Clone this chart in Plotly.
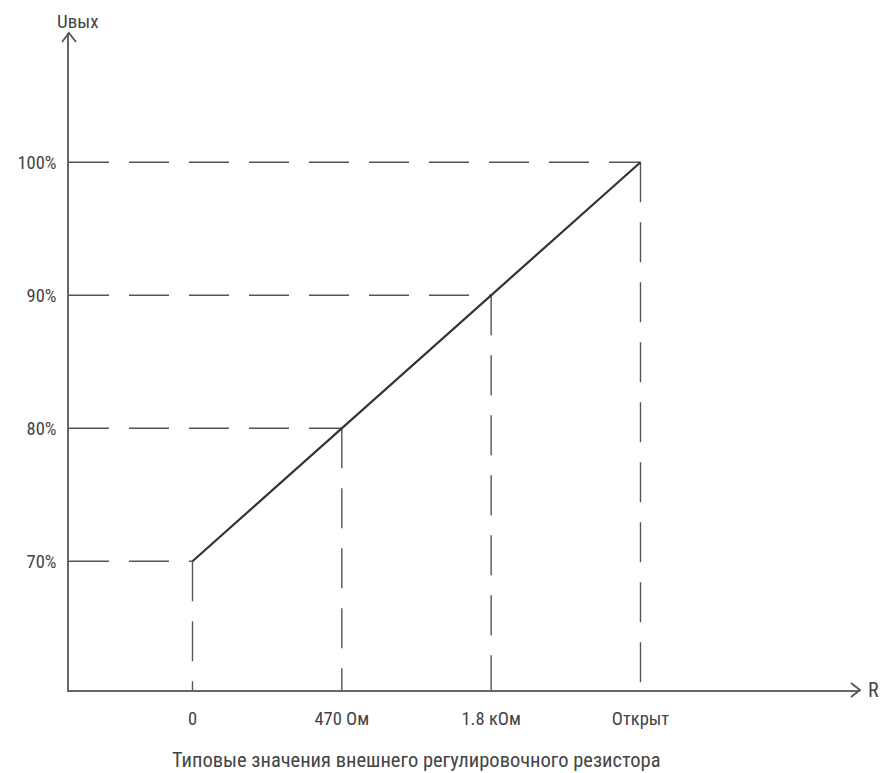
import plotly.graph_objects as go

categories = ["0", "470 Ом", "1.8 кОм", "Открыт"]
values = [70, 80, 90, 100]
y_ticks = [70, 80, 90, 100]
y_tick_labels = ["70%", "80%", "90%", "100%"]
x_title = "Типовые значения внешнего регулировочного резистора"
y_label = "Uвых"
x_label = "R"

FONT = "Liberation Sans Narrow, Roboto Condensed, Roboto, sans-serif"
xpos = list(range(len(categories)))
XMIN, XMAX = -0.827, 4.47
YMIN, YMAX = 60.32, 109.72

# the page body adds an 8px offset; compensate in size and margins
OFF = 8

fig = go.Figure()

# dashed guides
hx, hy, vx, vy = [], [], [], []
for i, v in zip(xpos, values):
    hx += [XMIN, i, None]
    hy += [v, v, None]
    vx += [i, i, None]
    vy += [v, YMIN, None]
fig.add_trace(go.Scatter(x=hx, y=hy, mode="lines", hoverinfo="skip",
                         line=dict(color="#555555", width=1.4, dash="40px,20px")))
fig.add_trace(go.Scatter(x=vx, y=vy, mode="lines", hoverinfo="skip",
                         line=dict(color="#555555", width=1.4, dash="40px,20px")))
# main line
fig.add_trace(go.Scatter(x=xpos, y=values, mode="lines",
                         line=dict(color="#333333", width=2.2)))

fig.update_layout(
    width=890 - OFF, height=773 - OFF,
    margin=dict(l=69 - OFF, r=30, t=33 - OFF, b=83, autoexpand=False),
    paper_bgcolor="white", plot_bgcolor="white",
    showlegend=False,
    font=dict(family=FONT, size=18, color="#444444"),
    xaxis=dict(range=[XMIN, XMAX], tickvals=xpos, ticktext=categories,
               showgrid=False, zeroline=False, showline=True, automargin=False,
               linecolor="#666666", linewidth=1.6, ticks="",
               ticklabelstandoff=11, tickfont=dict(size=18.5)),
    yaxis=dict(range=[YMIN, YMAX], tickvals=y_ticks, ticktext=y_tick_labels,
               showgrid=False, zeroline=False, showline=True, automargin=False,
               linecolor="#666666", linewidth=1.6, ticks="",
               ticklabelstandoff=7, tickfont=dict(size=18.5)),
)

# arrow heads
fig.add_shape(type="path", xref="paper", yref="paper",
              xsizemode="pixel", ysizemode="pixel", xanchor=0, yanchor=1,
              path="M -7,-9 L 0,0 L 7,-9", line=dict(color="#555555", width=1.8))
fig.add_shape(type="path", xref="paper", yref="paper",
              xsizemode="pixel", ysizemode="pixel", xanchor=1, yanchor=0,
              path="M -9,7 L 0,0 L -9,-7", line=dict(color="#555555", width=1.8))

fig.add_annotation(xref="paper", yref="paper", x=0, y=1, xshift=9, yshift=12,
                   xanchor="center", yanchor="middle",
                   text=y_label, showarrow=False, font=dict(size=19))
fig.add_annotation(xref="paper", yref="paper", x=1, y=0, xshift=13,
                   xanchor="center", yanchor="middle",
                   text=x_label, showarrow=False, font=dict(size=20))
fig.add_annotation(xref="x", yref="paper", x=(xpos[0] + xpos[-1]) / 2, y=0,
                   yshift=-70, xanchor="center", yanchor="middle",
                   text=x_title, showarrow=False, font=dict(size=20.5))

fig.write_html("out.html")
